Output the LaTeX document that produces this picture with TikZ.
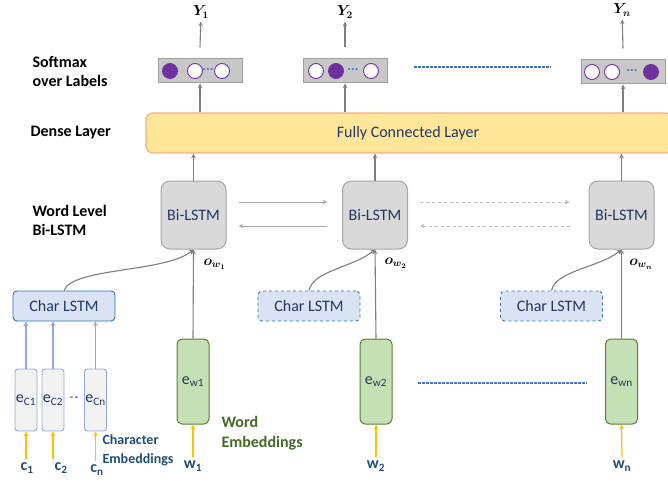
\documentclass[tikz,border=0pt]{standalone}
\usepackage{fontspec}
\setmainfont{Carlito}
\usepackage{bm}
\usetikzlibrary{positioning}
\definecolor{arrgray}{HTML}{7F7F7F}
\definecolor{lstmfill}{HTML}{D9D9D9}
\definecolor{lstmdraw}{HTML}{A6A6A6}
\definecolor{txtblue}{HTML}{203864}
\definecolor{fcfill}{HTML}{FFE699}
\definecolor{fcdraw}{HTML}{F4B183}
\definecolor{smfill}{HTML}{C8C8C8}
\definecolor{smdraw}{HTML}{A0A0A0}
\definecolor{purp}{HTML}{7030A0}
\definecolor{dotblue}{HTML}{4472C4}
\definecolor{clfill}{HTML}{DAE3F3}
\definecolor{cldraw}{HTML}{2E75B6}
\definecolor{ecdraw}{HTML}{8FAADC}
\definecolor{ewfill}{HTML}{C5E0B4}
\definecolor{ewdraw}{HTML}{548235}
\definecolor{inyellow}{HTML}{FFC000}
\definecolor{inblue}{HTML}{1F4E79}
\definecolor{wegreen}{HTML}{426B27}
\begin{document}
\begin{tikzpicture}[x=1pt,y=-1pt,font=\fontsize{16}{19}\selectfont,
	side/.style={font=\fontsize{16}{19}\selectfont\bfseries,align=left,anchor=west},
	smbox/.style={draw=smdraw,fill=smfill,line width=1pt,minimum width=84pt,minimum height=24pt},
	smon/.style={circle,draw=purp,fill=purp,line width=0.9pt,minimum size=15pt,inner sep=0pt},
	smoff/.style={smon,fill=white},
	smdots/.style={text=dotblue,font=\fontsize{14}{16}\selectfont\bfseries},
	bilstm/.style={draw=lstmdraw,fill=lstmfill,rounded corners=9pt,line width=1pt,minimum width=65pt,minimum height=68pt,text=txtblue},
	charlstm/.style={draw=cldraw,fill=clfill,rounded corners=4pt,line width=0.9pt,minimum width=102pt,minimum height=30pt,text=txtblue},
	charemb/.style={draw=ecdraw,fill=black!5,rounded corners=3pt,line width=0.9pt,minimum width=22pt,minimum height=62pt,inner sep=0pt,text=txtblue},
	wordemb/.style={draw=ewdraw,fill=ewfill,rounded corners=5pt,line width=1pt,minimum width=32pt,minimum height=85pt,inner sep=0pt,text=txtblue},
	up/.style={draw=arrgray,line width=1.1pt,-stealth},
	hsolid/.style={draw=lstmdraw,line width=1pt,-stealth},
	hdash/.style={hsolid,draw=lstmdraw!80,dashed},
	inarr/.style={draw=inyellow,line width=1.2pt,-stealth},
	charin/.style={draw=ecdraw,line width=1.2pt,-stealth},
	inlab/.style={text=inblue,font=\fontsize{16}{19}\selectfont\bfseries},
	dotline/.style={draw=dotblue,line width=1.6pt,dash pattern=on 3pt off 1pt}]
	\useasboundingbox (0,0) rectangle (668,481);
	\node[side] (labsoft) at (29,72) {Softmax\\over Labels};
	\node[side] (labdense) at (27,133) {Dense Layer};
	\node[side] (labword) at (29,220) {Word Level\\Bi-LSTM};
	\node[draw=fcdraw,fill=fcfill,rounded corners=7pt,line width=1.2pt,minimum width=526pt,minimum height=40pt,text=txtblue] (fc) at (409,133) {};
	\node[text=txtblue] (fctext) at (408,133) {Fully Connected Layer};
	\node[smbox] (sm1) at (200,71) {};
	\node[smbox] (sm2) at (345,71) {};
	\node[smbox] (sm3) at (623,72) {};
	\node[smon] (s11) at (170,71) {};
	\node[smoff] (s12) at (195,71) {};
	\node[smdots] (s1d) at (208,70) {...};
	\node[smoff] (s13) at (222,71) {};
	\node[smoff] (s21) at (316,71) {};
	\node[smon] (s22) at (336,71) {};
	\node[smdots] (s2d) at (353,70) {...};
	\node[smoff] (s23) at (371,71) {};
	\node[smoff] (s31) at (592,72) {};
	\node[smoff] (s32) at (612,72) {};
	\node[smdots] (s3d) at (632,71) {...};
	\node[smon] (s33) at (651,72) {};
	\node[font=\fontsize{14}{16}\selectfont] (y1) at (201,12) {$\bm{Y_1}$};
	\node[font=\fontsize{14}{16}\selectfont] (y2) at (345,12) {$\bm{Y_2}$};
	\node[font=\fontsize{14}{16}\selectfont] (yn) at (622,10) {$\bm{Y_n}$};
	\draw[dotline] (414,67) -- (551,67);
	\node[bilstm] (bl1) at (193.5,215) {Bi-LSTM};
	\node[bilstm] (bl2) at (375,215) {Bi-LSTM};
	\node[bilstm] (bl3) at (621.5,215) {Bi-LSTM};
	\node[font=\fontsize{14}{16}\selectfont,anchor=east,inner sep=0pt] (ow1) at (226,264) {$\bm{o_{w_1}}$};
	\node[font=\fontsize{14}{16}\selectfont,anchor=east,inner sep=0pt] (ow2) at (407,263) {$\bm{o_{w_2}}$};
	\node[font=\fontsize{14}{16}\selectfont,anchor=east,inner sep=0pt] (own) at (653,264) {$\bm{o_{w_n}}$};
	\node[charlstm] (cl1) at (64,306) {Char LSTM};
	\node[charlstm,dashed] (cl2) at (309,306) {Char LSTM};
	\node[charlstm,dashed] (cl3) at (551.5,306) {Char LSTM};
	\node[wordemb] (ew1) at (193,381.5) {e\textsubscript{w1}};
	\node[wordemb] (ew2) at (376,381.5) {e\textsubscript{w2}};
	\node[wordemb] (ewn) at (621.5,381.5) {e\textsubscript{wn}};
	\draw[dotline] (418,383) -- (587,383);
	\node[charemb] (ec1) at (26,400) {e\textsubscript{C1}};
	\node[charemb] (ec2) at (53,400) {e\textsubscript{C2}};
	\node[charemb] (ecn) at (95.5,400) {e\textsubscript{Cn}};
	\node[text=txtblue,font=\bfseries] (ecdash) at (74,399) {-\,-};
	\node[inlab] (c1) at (27,468) {c\textsubscript{1}};
	\node[inlab] (c2) at (61,468) {c\textsubscript{2}};
	\node[inlab] (cn) at (97,470) {c\textsubscript{n}};
	\node[inlab] (w1) at (193,466) {w\textsubscript{1}};
	\node[inlab] (w2) at (376,466) {w\textsubscript{2}};
	\node[inlab] (wn) at (622,466) {w\textsubscript{n}};
	\node[text=inblue,font=\fontsize{14}{19}\selectfont\bfseries,align=left,anchor=west] (chartext) at (99,450) {Character\\Embeddings};
	\node[text=wegreen,font=\fontsize{16}{20}\selectfont\bfseries,align=left,anchor=west] (wordtext) at (218,433) {Word\\Embeddings};
	\foreach \s/\y in {sm1/y1,sm2/y2,sm3/yn}{
		\draw[up] ([yshift=11pt]\s.north) -- (\y);
		\draw[up] (\s.south |- fc.north) -- (\s.south);}
	\foreach \b in {bl1,bl2,bl3}
		\draw[up] (\b.north) -- (\b.north |- fc.south);
	\draw[hsolid] ([shift={(12,-13)}]bl1.east) -- ([shift={(-15,-13)}]bl2.west);
	\draw[hsolid] ([shift={(-15,11)}]bl2.west) -- ([shift={(12,11)}]bl1.east);
	\draw[hdash] ([shift={(12,-13)}]bl2.east) -- ([shift={(-19,-13)}]bl3.west);
	\draw[hdash] ([shift={(-19,11)}]bl3.west) -- ([shift={(12,11)}]bl2.east);
	\draw[up] (cl1.north) .. controls +(8,-23) and +(-28,23) .. (bl1.south);
	\draw[up] (cl2.north) .. controls +(4,-20) and +(-22,18) .. (bl2.south);
	\draw[up] (cl3.north) .. controls +(4,-20) and +(-22,18) .. (bl3.south);
	\foreach \e/\b/\w in {ew1/bl1/w1,ew2/bl2/w2,ewn/bl3/wn}{
		\draw[up] (\e.north) -- (\b.south);
		\draw[inarr] (\w.north) -- (\e.south);}
	\foreach \e/\c in {ec1/c1,ec2/c2,ecn/cn}{
		\draw[charin] (\e.north) -- (\e.north |- cl1.south);
		\draw[inarr] (\e.south |- \c.north) -- (\e.south);}
\end{tikzpicture}
\end{document}
